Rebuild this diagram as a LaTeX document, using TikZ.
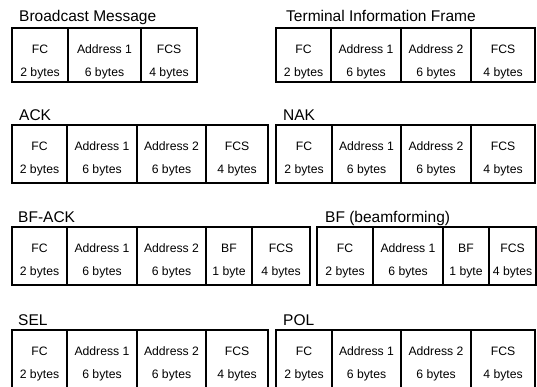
\documentclass[tikz,border=0pt]{standalone}
\usepackage{fontspec}
\setmainfont{Liberation Sans}
\tikzset{
  cellbox/.style={draw=black, line width=1.4pt, rectangle, inner sep=0pt, outer sep=0pt},
  celltxt/.style={anchor=base, inner sep=0pt, font=\fontsize{12.2}{14}\selectfont},
  titletxt/.style={anchor=base west, inner sep=0pt, font=\fontsize{15.5}{18}\selectfont},
}
\newcommand\fcell[7]{%
  \node[cellbox, minimum width={#3-#2}, minimum height={#5-#4}] (#1) at ({(#2+#3)/2},{(#4+#5)/2}) {};
  \node[celltxt] (#1-f) at ({(#2+#3)/2},{#4+25}) {#6};
  \node[celltxt] (#1-s) at ({(#2+#3)/2},{#4+48}) {#7};
}
\begin{document}
\begin{tikzpicture}[x=1pt,y=-1pt]
\useasboundingbox (0,0) rectangle (537,386);
% Broadcast Message
\node[titletxt] (t1) at (19,21) {Broadcast Message};
\fcell{b1}{12}{68}{28}{82}{FC}{2 bytes}
\fcell{b2}{68}{141}{28}{82}{Address 1}{6 bytes}
\fcell{b3}{141}{197}{28}{82}{FCS}{4 bytes}
% Terminal Information Frame
\node[titletxt] (t2) at (286,21) {Terminal Information Frame};
\fcell{ti1}{276}{331}{28}{82}{FC}{2 bytes}
\fcell{ti2}{331}{401}{28}{82}{Address 1}{6 bytes}
\fcell{ti3}{401}{471}{28}{82}{Address 2}{6 bytes}
\fcell{ti4}{471}{535}{28}{82}{FCS}{4 bytes}
% ACK
\node[titletxt] (t3) at (19,120) {ACK};
\fcell{a1}{12}{67}{125}{183}{FC}{2 bytes}
\fcell{a2}{67}{137}{125}{183}{Address 1}{6 bytes}
\fcell{a3}{137}{206}{125}{183}{Address 2}{6 bytes}
\fcell{a4}{206}{268}{125}{183}{FCS}{4 bytes}
% NAK
\node[titletxt] (t4) at (283,120) {NAK};
\fcell{n1}{276}{332}{125}{183}{FC}{2 bytes}
\fcell{n2}{332}{401}{125}{183}{Address 1}{6 bytes}
\fcell{n3}{401}{471}{125}{183}{Address 2}{6 bytes}
\fcell{n4}{471}{535}{125}{183}{FCS}{4 bytes}
% BF-ACK
\node[titletxt] (t5) at (18,222) {BF-ACK};
\fcell{ba1}{12}{67}{227}{285}{FC}{2 bytes}
\fcell{ba2}{67}{137}{227}{285}{Address 1}{6 bytes}
\fcell{ba3}{137}{206}{227}{285}{Address 2}{6 bytes}
\fcell{ba4}{206}{252}{227}{285}{BF}{1 byte}
\fcell{ba5}{252}{310}{227}{285}{FCS}{4 bytes}
% BF (beamforming)
\node[titletxt] (t6) at (325,222) {BF (beamforming)};
\fcell{bf1}{317}{373}{227}{285}{FC}{2 bytes}
\fcell{bf2}{373}{443}{227}{285}{Address 1}{6 bytes}
\fcell{bf3}{443}{489}{227}{285}{BF}{1 byte}
\fcell{bf4}{489}{536}{227}{285}{FCS}{4 bytes}
% SEL
\node[titletxt] (t7) at (18,325) {SEL};
\fcell{s1}{12}{67}{330}{392}{FC}{2 bytes}
\fcell{s2}{67}{137}{330}{392}{Address 1}{6 bytes}
\fcell{s3}{137}{206}{330}{392}{Address 2}{6 bytes}
\fcell{s4}{206}{268}{330}{392}{FCS}{4 bytes}
% POL
\node[titletxt] (t8) at (283,325) {POL};
\fcell{p1}{276}{332}{330}{392}{FC}{2 bytes}
\fcell{p2}{332}{401}{330}{392}{Address 1}{6 bytes}
\fcell{p3}{401}{471}{330}{392}{Address 2}{6 bytes}
\fcell{p4}{471}{535}{330}{392}{FCS}{4 bytes}
\end{tikzpicture}
\end{document}
